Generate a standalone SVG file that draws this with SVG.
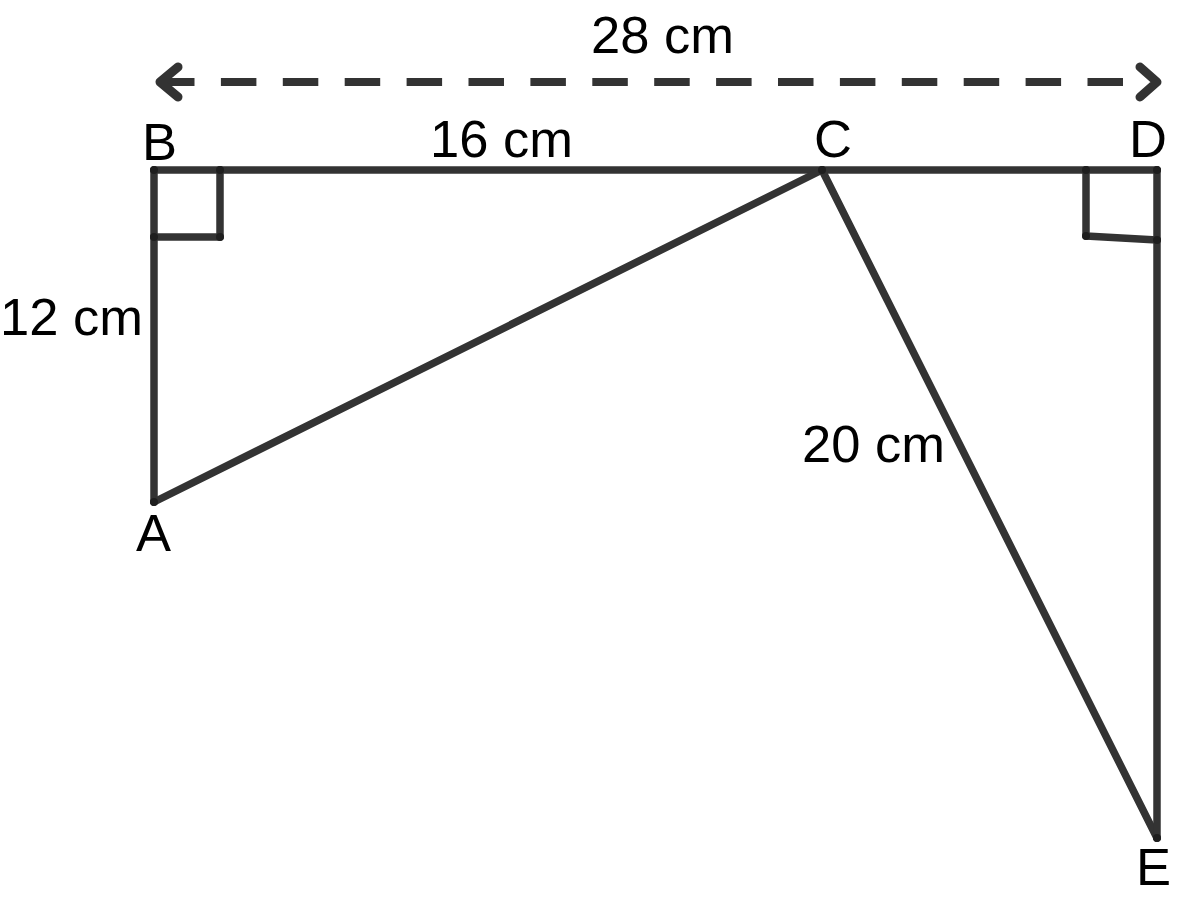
<svg xmlns="http://www.w3.org/2000/svg" width="1183" height="900" viewBox="0 0 1183 900">
<style>
.ln{stroke:#333;stroke-width:7.5;fill:none;stroke-linecap:round;stroke-linejoin:round}
.dash{stroke:#333;stroke-width:8;fill:none;stroke-dasharray:35.5 26.4}
.head{stroke:#333;stroke-width:9;fill:none;stroke-linecap:round;stroke-linejoin:round}
.dot{fill:#1e1e1e}
text{font-family:"Liberation Sans",Arial,sans-serif;font-size:52.5px;fill:#000}
</style>
<rect width="1183" height="900" fill="#fff"/>
<g id="connectors">
<line class="dash" x1="159" y1="82" x2="1124" y2="82"/>
<polyline class="head" points="178,67 160,82 178,97"/>
<polyline class="head" points="1140,67 1157,82 1140,97"/>
<line class="ln" x1="154" y1="170" x2="1157" y2="170"/>
<line class="ln" x1="154" y1="170" x2="154" y2="502"/>
<line class="ln" x1="154" y1="502" x2="822" y2="170"/>
<line class="ln" x1="822" y1="170" x2="1157" y2="838"/>
<line class="ln" x1="1157" y1="170" x2="1157" y2="838"/>
<polyline class="ln" points="154,237 220,237 220,170"/>
<polyline class="ln" points="1086,170 1086,236 1157,240"/>
</g>
<g id="B"><circle class="dot" cx="154" cy="170" r="4"/><text x="142" y="160">B</text></g>
<g id="C"><circle class="dot" cx="822" cy="170" r="4"/><text x="814" y="157">C</text></g>
<g id="D"><circle class="dot" cx="1157" cy="170" r="4"/><text x="1129" y="157">D</text></g>
<g id="A"><circle class="dot" cx="154" cy="502" r="4"/><text x="136" y="551">A</text></g>
<g id="E"><circle class="dot" cx="1157" cy="838" r="4"/><text x="1136" y="885">E</text></g>
<g id="marks">
<circle class="dot" cx="220" cy="170" r="4"/><circle class="dot" cx="220" cy="237" r="4"/><circle class="dot" cx="154" cy="237" r="4"/>
<circle class="dot" cx="1086" cy="170" r="4"/><circle class="dot" cx="1086" cy="236" r="4"/><circle class="dot" cx="1157" cy="240" r="4"/>
</g>
<g id="labels">
<text x="591" y="53">28 cm</text>
<text x="430" y="157">16 cm</text>
<text x="0" y="335">12 cm</text>
<text x="802" y="462">20 cm</text>
</g>
</svg>
